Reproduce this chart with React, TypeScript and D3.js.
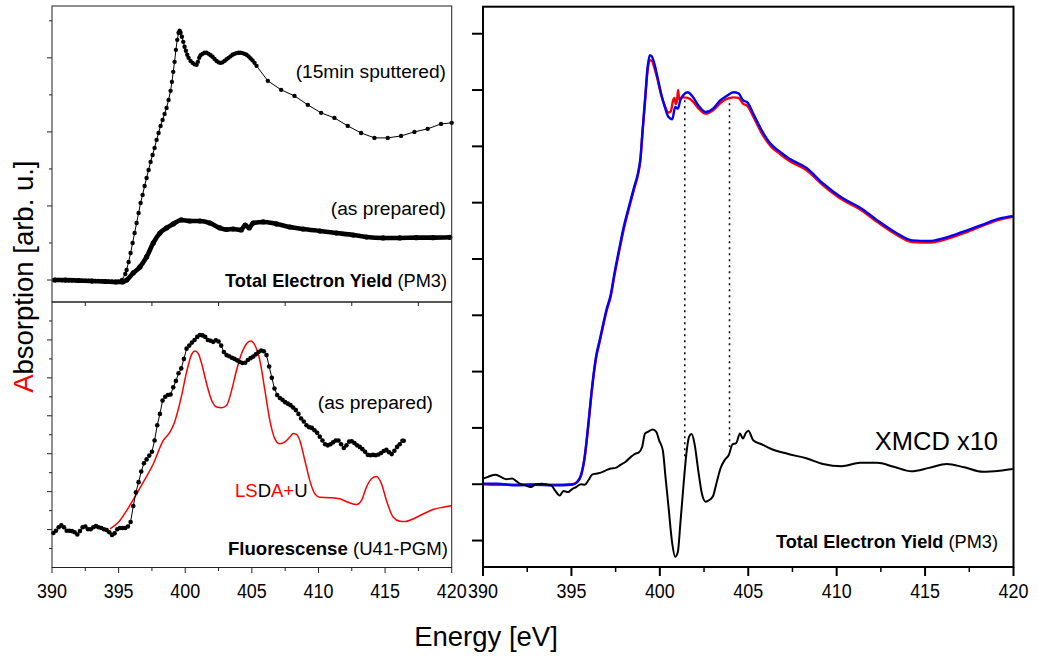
import React from "react";
import * as d3 from "d3";

// ---- Data -----------------------------------------------------------------
// N K-edge absorption, energies in eV, intensities in arbitrary units.

// Top-left: TEY after 15 min sputtering [energy, intensity]
const tey15min: [number, number][] = [
  [390.25, 0], [390.5, 0], [390.75, -0.004], [391, -0.004], [391.25, -0.007], [391.5, -0.007],
  [391.75, -0.008], [392, -0.008], [392.25, -0.011], [392.5, -0.011], [392.75, -0.011], [393, -0.014],
  [393.25, -0.014], [393.5, -0.014], [393.75, -0.016], [394, -0.018], [394.25, -0.018], [394.5, -0.02],
  [394.75, -0.024], [395, -0.02], [395.25, 0], [395.5, 0.081], [395.6, 0.135], [395.75, 0.243],
  [395.9, 0.365], [396.05, 0.5], [396.2, 0.635], [396.35, 0.77], [396.5, 0.905], [396.65, 1.041],
  [396.8, 1.149], [396.95, 1.27], [397.1, 1.378], [397.25, 1.486], [397.4, 1.595], [397.55, 1.689],
  [397.7, 1.784], [397.85, 1.892], [398, 1.986], [398.15, 2.081], [398.3, 2.162], [398.45, 2.243],
  [398.6, 2.324], [398.75, 2.432], [398.9, 2.554], [399, 2.676], [399.1, 2.811], [399.2, 2.946],
  [399.3, 3.108], [399.4, 3.243], [399.5, 3.338], [399.58, 3.365], [399.65, 3.338], [399.75, 3.284],
  [399.85, 3.216], [399.95, 3.149], [400.05, 3.095], [400.15, 3.041], [400.25, 3.0], [400.4, 2.959],
  [400.55, 2.932], [400.7, 2.912], [400.85, 2.905], [400.95, 2.946], [401.05, 3.0], [401.15, 3.034],
  [401.3, 3.054], [401.45, 3.068], [401.6, 3.068], [401.75, 3.054], [401.9, 3.034], [402.05, 3.014],
  [402.2, 2.986], [402.35, 2.959], [402.5, 2.939], [402.65, 2.932], [402.8, 2.939], [402.95, 2.959],
  [403.1, 2.98], [403.25, 3.0], [403.4, 3.02], [403.55, 3.041], [403.7, 3.054], [403.85, 3.064],
  [404, 3.068], [404.15, 3.068], [404.3, 3.064], [404.45, 3.054], [404.6, 3.041], [404.75, 3.02],
  [404.9, 2.993], [405.05, 2.966], [405.2, 2.932], [405.35, 2.892], [406.2, 2.689], [407.2, 2.568],
  [408.2, 2.486], [409.2, 2.365], [410.2, 2.257], [411.2, 2.189], [412.2, 2.081], [413.2, 1.986],
  [414.2, 1.919], [415.2, 1.919], [416.2, 1.946], [417.2, 2.0], [418.2, 2.041], [419.2, 2.108],
  [420, 2.122],
];

// Top-left: TEY as prepared
const teyPrepared: [number, number][] = [
  [390.2, 0], [391, 0], [392, -0.007], [393, -0.014], [394, -0.02], [394.8, -0.027], [395.3, -0.027],
  [395.6, 0], [396.1, 0.095], [396.6, 0.176], [397.1, 0.311], [397.6, 0.5], [398.1, 0.635],
  [398.6, 0.703], [399.1, 0.757], [399.7, 0.811], [400.35, 0.797], [401.1, 0.797], [401.85, 0.77],
  [402.6, 0.703], [403.1, 0.682], [403.6, 0.689], [404.2, 0.676], [404.5, 0.743], [404.8, 0.703],
  [405.1, 0.77], [405.85, 0.784], [406.85, 0.757], [407.85, 0.716], [408.85, 0.689], [410.1, 0.662],
  [411.35, 0.635], [412.6, 0.608], [413.6, 0.581], [414.85, 0.568], [416.1, 0.568], [417.35, 0.572],
  [418.6, 0.572], [419.85, 0.577],
];

// Bottom-left: fluorescence yield, as prepared
const flyPrepared: [number, number][] = [
  [390.1, -0.09], [390.3, -0.03], [390.5, 0.06], [390.7, 0.11], [390.9, 0.06], [391.1, -0.03],
  [391.3, -0.03], [391.5, -0.04], [391.7, -0.07], [391.9, -0.13], [392.1, -0.04], [392.3, 0.06],
  [392.5, 0.08], [392.7, 0.01], [392.9, 0.01], [393.1, 0.06], [393.3, 0.09], [393.5, 0.06],
  [393.7, 0.04], [393.9, 0.01], [394.1, -0.01], [394.3, -0.07], [394.5, -0.14], [394.7, -0.1],
  [394.9, 0.01], [395.1, 0.04], [395.3, 0.04], [395.5, 0.04], [395.7, 0.08], [395.9, 0.2],
  [396.1, 0.62], [396.3, 0.98], [396.5, 1.25], [396.7, 1.53], [396.9, 1.75], [397.1, 1.85],
  [397.3, 1.95], [397.5, 2.05], [397.7, 2.35], [397.9, 2.75], [398.1, 3.05], [398.3, 3.4],
  [398.5, 3.5], [398.7, 3.55], [398.9, 3.56], [399.1, 3.75], [399.3, 3.92], [399.5, 4.12],
  [399.7, 4.25], [399.9, 4.5], [400.1, 4.77], [400.3, 4.85], [400.5, 4.93], [400.7, 5.0],
  [400.9, 5.08], [401.1, 5.13], [401.3, 5.12], [401.5, 5.08], [401.7, 5.0], [401.9, 4.98],
  [402.1, 4.95], [402.3, 4.99], [402.5, 4.96], [402.7, 4.85], [402.9, 4.68], [403.1, 4.6],
  [403.3, 4.57], [403.5, 4.53], [403.7, 4.5], [403.9, 4.46], [404.1, 4.42], [404.3, 4.39],
  [404.5, 4.4], [404.7, 4.47], [404.9, 4.52], [405.1, 4.56], [405.3, 4.62], [405.5, 4.68],
  [405.7, 4.72], [405.9, 4.7], [406.1, 4.6], [406.3, 4.3], [406.5, 4.0], [406.7, 3.72],
  [406.9, 3.55], [407.1, 3.47], [407.3, 3.42], [407.5, 3.36], [407.7, 3.32], [407.9, 3.28],
  [408.1, 3.22], [408.3, 3.15], [408.5, 3.05], [408.7, 2.93], [408.9, 2.85], [409.1, 2.75],
  [409.3, 2.7], [409.5, 2.68], [409.7, 2.62], [409.9, 2.55], [410.1, 2.45], [410.3, 2.35],
  [410.5, 2.25], [410.7, 2.22], [410.9, 2.25], [411.1, 2.3], [411.3, 2.35], [411.5, 2.35],
  [411.7, 2.25], [411.9, 2.15], [412.1, 2.22], [412.3, 2.32], [412.5, 2.33], [412.7, 2.28],
  [412.9, 2.22], [413.1, 2.18], [413.3, 2.12], [413.5, 2.05], [413.7, 1.97], [413.9, 1.96],
  [414.1, 1.97], [414.3, 1.96], [414.5, 1.98], [414.7, 2.02], [414.9, 2.07], [415.1, 2.1],
  [415.3, 2.04], [415.5, 1.99], [415.7, 2.08], [415.9, 2.18], [416.1, 2.25], [416.3, 2.34],
  [416.4, 2.34],
];

// Bottom-left: LSDA+U calculated spectrum
const lsdaU: [number, number][] = [
  [394.35, 0.02], [394.98, 0.19], [395.6, 0.5], [396.2, 0.85], [396.85, 1.25], [397.6, 1.73],
  [398.35, 2.35], [398.85, 2.57], [399.2, 2.83], [399.7, 3.49], [400.1, 4.15], [400.48, 4.62],
  [400.73, 4.71], [400.98, 4.64], [401.23, 4.38], [401.6, 3.85], [401.98, 3.41], [402.35, 3.23],
  [402.73, 3.21], [403.1, 3.27], [403.48, 3.67], [403.85, 4.2], [404.23, 4.64], [404.6, 4.9],
  [404.9, 4.97], [405.23, 4.86], [405.6, 4.46], [405.98, 3.67], [406.35, 2.88], [406.73, 2.39],
  [407.1, 2.26], [407.48, 2.31], [407.85, 2.44], [408.1, 2.53], [408.35, 2.51], [408.6, 2.35],
  [408.98, 1.82], [409.35, 1.29], [409.73, 0.94], [410.1, 0.85], [410.85, 0.84], [411.6, 0.81],
  [412.23, 0.72], [412.85, 0.66], [413.23, 0.77], [413.6, 1.12], [413.98, 1.34], [414.35, 1.4],
  [414.73, 1.21], [415.1, 0.77], [415.6, 0.33], [416.1, 0.22], [416.48, 0.21], [417.1, 0.28],
  [417.85, 0.41], [418.6, 0.53], [419.35, 0.59], [420, 0.63],
];

// Right: circularly polarised XAS, both helicities
const xasMinus: [number, number][] = [
  [390, 0.0], [390.8, -0.01], [391.86, -0.01], [392.9, 0.0], [393.96, -0.01], [395.02, 0.0],
  [395.33, 0.04], [395.54, 0.15], [395.75, 0.47], [395.96, 1.05], [396.17, 1.7], [396.39, 2.23],
  [396.6, 2.53], [396.8, 2.82], [397.0, 3.09], [397.22, 3.33], [397.43, 3.7], [397.71, 4.15],
  [397.96, 4.53], [398.28, 4.93], [398.55, 5.25], [398.76, 5.49], [398.91, 5.78], [399.01, 6.2],
  [399.16, 6.78], [399.31, 7.35], [399.43, 7.53], [399.54, 7.52], [399.69, 7.4], [399.86, 7.2],
  [400.07, 6.92], [400.28, 6.72], [400.49, 6.6], [400.62, 6.62], [400.75, 6.82], [400.83, 6.86],
  [400.9, 6.75], [400.97, 6.8], [401.03, 7.0], [401.1, 6.84], [401.2, 6.86], [401.33, 6.87],
  [401.58, 6.86], [401.86, 6.8], [402.17, 6.68], [402.59, 6.58], [403.01, 6.64], [403.43, 6.77],
  [403.75, 6.84], [404.17, 6.87], [404.45, 6.86], [404.7, 6.76], [404.95, 6.72], [405.33, 6.5],
  [405.75, 6.24], [406.28, 6.0], [406.81, 5.86], [407.33, 5.74], [408.28, 5.58], [409.23, 5.31],
  [410.28, 5.06], [411.33, 4.88], [412.28, 4.66], [413.33, 4.44], [414.28, 4.3], [415.22, 4.29],
  [416.17, 4.35], [417.12, 4.45], [418.17, 4.58], [419.22, 4.7], [419.96, 4.75],
];

const xasPlus: [number, number][] = [
  [390, 0.01], [390.8, 0.01], [391.86, -0.02], [392.9, -0.01], [393.96, -0.02], [395.02, -0.01],
  [395.33, 0.04], [395.54, 0.16], [395.75, 0.49], [395.96, 1.08], [396.17, 1.73], [396.39, 2.26],
  [396.6, 2.56], [396.8, 2.85], [397.0, 3.12], [397.22, 3.36], [397.43, 3.74], [397.71, 4.19],
  [397.96, 4.57], [398.28, 4.96], [398.55, 5.28], [398.76, 5.52], [398.91, 5.81], [399.01, 6.23],
  [399.16, 6.82], [399.31, 7.41], [399.43, 7.62], [399.54, 7.6], [399.69, 7.47], [399.86, 7.24],
  [400.07, 6.94], [400.28, 6.7], [400.49, 6.52], [400.7, 6.48], [400.87, 6.7], [401.02, 6.67],
  [401.16, 6.82], [401.33, 6.91], [401.58, 6.96], [401.86, 6.88], [402.17, 6.73], [402.59, 6.61],
  [403.01, 6.67], [403.43, 6.82], [403.75, 6.89], [404.17, 6.96], [404.45, 6.94], [404.7, 6.82],
  [404.95, 6.78], [405.33, 6.55], [405.75, 6.29], [406.28, 6.04], [406.81, 5.9], [407.33, 5.78],
  [408.28, 5.62], [409.23, 5.34], [410.28, 5.09], [411.33, 4.91], [412.28, 4.69], [413.33, 4.47],
  [414.28, 4.33], [415.22, 4.32], [416.17, 4.38], [417.12, 4.48], [418.17, 4.6], [419.22, 4.72],
  [419.96, 4.76],
];

// Right: XMCD difference, magnified x10
const xmcd: [number, number][] = [
  [390.0, 0.1], [390.28, 0.13], [390.7, 0.17], [391.0, 0.13], [391.33, 0.09], [391.65, 0.1],
  [391.86, 0.06], [392.07, 0.01], [392.39, -0.02], [392.7, -0.05], [393.0, 0.0], [393.33, 0.01],
  [393.65, -0.01], [393.86, -0.02], [394.07, -0.11], [394.34, -0.2], [394.55, -0.12], [394.81, -0.14],
  [395.02, -0.09], [395.27, -0.05], [395.54, 0.0], [395.75, -0.01], [395.96, 0.07], [396.17, 0.17],
  [396.45, 0.19], [396.7, 0.21], [396.98, 0.25], [397.22, 0.28], [397.5, 0.29], [397.75, 0.34],
  [398.07, 0.4], [398.38, 0.49], [398.6, 0.54], [398.8, 0.56], [399.0, 0.66], [399.16, 0.9],
  [399.32, 0.93], [399.6, 0.97], [399.8, 0.93], [399.96, 0.78], [400.17, 0.6], [400.32, 0.13],
  [400.49, -0.4], [400.7, -1.05], [400.87, -1.29], [401.02, -1.2], [401.16, -0.7], [401.33, -0.05],
  [401.5, 0.54], [401.65, 0.84], [401.8, 0.89], [401.96, 0.72], [402.17, 0.25], [402.38, -0.17],
  [402.59, -0.31], [402.8, -0.28], [403.01, -0.21], [403.22, 0.04], [403.43, 0.28], [403.69, 0.44],
  [403.9, 0.52], [404.11, 0.71], [404.32, 0.73], [404.53, 0.9], [404.7, 0.81], [404.86, 0.91],
  [405.01, 0.95], [405.28, 0.78], [405.75, 0.71], [406.27, 0.63], [407.22, 0.54], [408.28, 0.46],
  [409.23, 0.36], [410.28, 0.32], [411.33, 0.38], [412.28, 0.38], [413.23, 0.31], [414.22, 0.23],
  [415.22, 0.29], [416.23, 0.36], [417.22, 0.3], [418.27, 0.22], [419.22, 0.24], [419.96, 0.27],
];

// Dotted guide lines linking XAS features to the XMCD signal: [energy, top, bottom]
const guideLines: [number, number, number][] = [
  [401.41, 6.82, 0.48],
  [403.94, 6.87, 0.66],
];

const energyTicks = [390, 395, 400, 405, 410, 415, 420];
const energyMinorTicks = [392.5, 397.5, 402.5, 407.5, 412.5, 417.5];
const topLeftYTicks = [0, 0.5, 1, 1.5, 2, 2.5, 3, 3.5];
const bottomLeftYTicks = [-0.5, 0, 0.5, 1, 1.5, 2, 2.5, 3, 3.5, 4, 4.5, 5, 5.5];
const rightYTicks = [-1, 0, 1, 2, 3, 4, 5, 6, 7, 8];

// ---- Layout ---------------------------------------------------------------
const W = 1044;
const H = 657;
const FONT = "'Liberation Sans', Arial, Helvetica, sans-serif";

const xLeft = d3.scaleLinear().domain([390, 420]).range([52, 451.7]);
const yTopLeft = d3.scaleLinear().domain([-0.297, 3.7]).range([302, 6]);
const yBottomLeft = d3.scaleLinear().domain([-1, 6]).range([567.5, 302]);
const xRight = d3.scaleLinear().domain([390, 420]).range([483, 1013.5]);
const yRight = d3.scaleLinear().domain([-1.47, 8.48]).range([567, 6.7]);

type Pt = [number, number];

function linePath(data: Pt[], x: d3.ScaleLinear<number, number>, y: d3.ScaleLinear<number, number>, curve = d3.curveLinear) {
  return (
    d3
      .line<Pt>()
      .x((d) => x(d[0]))
      .y((d) => y(d[1]))
      .curve(curve)(data) || ""
  );
}

// Tick label, slightly condensed horizontally like the plotting program's font
function TickLabel({ x, y, text }: { x: number; y: number; text: string }) {
  return (
    <text transform={`translate(${x},${y}) scale(0.92,1)`} fontSize={19.5} textAnchor="middle" fill="#000">
      {text}
    </text>
  );
}

export default function App() {
  const leftFrame = "#222";
  return (
    <div style={{ position: "absolute", left: 0, top: 0 }}>
      <svg width={W} height={H} viewBox={`0 0 ${W} ${H}`} style={{ display: "block", background: "#fff" }} fontFamily={FONT}>
        <rect x={0} y={0} width={W} height={H} fill="#fff" />

        {/* ---------- Top-left panel: TEY ---------- */}
        <path d={linePath(teyPrepared, xLeft, yTopLeft, d3.curveMonotoneX)} fill="none" stroke="#000" strokeWidth={4.6} strokeLinejoin="round" strokeLinecap="round" />
        {teyPrepared.map((d, i) => (
          <circle key={"tp" + i} cx={xLeft(d[0])} cy={yTopLeft(d[1])} r={2.6} fill="#000" />
        ))}
        <path d={linePath(tey15min, xLeft, yTopLeft)} fill="none" stroke="#000" strokeWidth={1} />
        {tey15min.map((d, i) => (
          <circle key={"ts" + i} cx={xLeft(d[0])} cy={yTopLeft(d[1])} r={2.2} fill="#000" />
        ))}
        <rect x={52} y={6} width={451.7 - 52} height={296} fill="none" stroke={leftFrame} strokeWidth={1} />
        {topLeftYTicks.map((t) => (
          <line key={"tly" + t} x1={52} x2={Number.isInteger(t) ? 47 : 49} y1={yTopLeft(t)} y2={yTopLeft(t)} stroke={leftFrame} strokeWidth={1} />
        ))}
        <text x={446} y={78} fontSize={19.2} textAnchor="end" fill="#000">(15min sputtered)</text>
        <text x={446} y={215} fontSize={19.2} textAnchor="end" fill="#000">(as prepared)</text>
        <text x={447} y={286.5} fontSize={18.2} textAnchor="end" fill="#000">
          <tspan fontWeight="bold">Total Electron Yield</tspan>
          <tspan> (PM3)</tspan>
        </text>

        {/* ---------- Bottom-left panel: fluorescence ---------- */}
        <path d={linePath(lsdaU, xLeft, yBottomLeft, d3.curveMonotoneX)} fill="none" stroke="#ff0000" strokeWidth={1.5} />
        <path d={linePath(flyPrepared, xLeft, yBottomLeft)} fill="none" stroke="#000" strokeWidth={1} />
        {flyPrepared.map((d, i) => (
          <circle key={"fp" + i} cx={xLeft(d[0])} cy={yBottomLeft(d[1])} r={2.3} fill="#000" />
        ))}
        <rect x={52} y={302} width={451.7 - 52} height={265.5} fill="none" stroke={leftFrame} strokeWidth={1} />
        {bottomLeftYTicks.map((t) => (
          <line key={"bly" + t} x1={52} x2={Number.isInteger(t) ? 47 : 49} y1={yBottomLeft(t)} y2={yBottomLeft(t)} stroke={leftFrame} strokeWidth={1} />
        ))}
        {energyMinorTicks.map((t) => (
          <line key={"blt" + t} x1={xLeft(t)} x2={xLeft(t)} y1={302} y2={306} stroke={leftFrame} strokeWidth={1} />
        ))}
        {energyTicks.map((t) => (
          <line key={"blxM" + t} x1={xLeft(t)} x2={xLeft(t)} y1={567.5} y2={573} stroke={leftFrame} strokeWidth={1} />
        ))}
        {energyMinorTicks.map((t) => (
          <line key={"blxm" + t} x1={xLeft(t)} x2={xLeft(t)} y1={567.5} y2={571} stroke={leftFrame} strokeWidth={1} />
        ))}
        {energyTicks.map((t) => (
          <TickLabel key={"blxl" + t} x={xLeft(t)} y={598} text={String(t)} />
        ))}
        <text x={433} y={409} fontSize={19.2} textAnchor="end" fill="#000">(as prepared)</text>
        <text x={235} y={496.5} fontSize={18.5} fill="#000">
          <tspan fill="#ff0000">LS</tspan>
          <tspan fill="#000">D</tspan>
          <tspan fill="#ff0000">A+</tspan>
          <tspan fill="#000">U</tspan>
        </text>
        <text x={448} y={555} fontSize={18.6} textAnchor="end" fill="#000">
          <tspan fontWeight="bold">Fluorescense</tspan>
          <tspan> (U41-PGM)</tspan>
        </text>

        {/* ---------- Right panel: XAS + XMCD ---------- */}
        {guideLines.map((g, i) => (
          <line key={"g" + i} x1={xRight(g[0])} x2={xRight(g[0])} y1={yRight(g[1])} y2={yRight(g[2])} stroke="#000" strokeWidth={1.5} strokeDasharray="2,4" />
        ))}
        <path d={linePath(xasMinus, xRight, yRight, d3.curveMonotoneX)} fill="none" stroke="#ff0000" strokeWidth={2.4} strokeLinejoin="round" />
        <path d={linePath(xasPlus, xRight, yRight, d3.curveMonotoneX)} fill="none" stroke="#0000ff" strokeWidth={2.4} strokeLinejoin="round" />
        <path d={linePath(xmcd, xRight, yRight, d3.curveMonotoneX)} fill="none" stroke="#000" strokeWidth={2} strokeLinejoin="round" />
        <rect x={483} y={6.7} width={1013.5 - 483} height={567 - 6.7} fill="none" stroke="#000" strokeWidth={2} />
        {rightYTicks.map((t) => (
          <line key={"ry" + t} x1={483} x2={472} y1={yRight(t)} y2={yRight(t)} stroke="#000" strokeWidth={2} />
        ))}
        {energyTicks.map((t) => (
          <line key={"rxM" + t} x1={xRight(t)} x2={xRight(t)} y1={567} y2={576} stroke="#000" strokeWidth={2} />
        ))}
        {energyMinorTicks.map((t) => (
          <line key={"rxm" + t} x1={xRight(t)} x2={xRight(t)} y1={567} y2={572} stroke="#000" strokeWidth={1.5} />
        ))}
        {energyTicks.map((t) => (
          <TickLabel key={"rxl" + t} x={xRight(t)} y={598} text={String(t)} />
        ))}
        <text x={998} y={450} fontSize={25.5} textAnchor="end" fill="#000">XMCD x10</text>
        <text x={998} y={548} fontSize={18.2} textAnchor="end" fill="#000">
          <tspan fontWeight="bold">Total Electron Yield</tspan>
          <tspan> (PM3)</tspan>
        </text>

        {/* ---------- Axis titles ---------- */}
        <text x={486} y={646} fontSize={27.5} textAnchor="middle" fill="#000">Energy [eV]</text>
        <text transform="translate(33,276.7) rotate(-90)" fontSize={27.5} textAnchor="middle" fill="#000">
          <tspan fill="#ff0000">A</tspan>
          <tspan>bsorption [arb. u.]</tspan>
        </text>
      </svg>
    </div>
  );
}
